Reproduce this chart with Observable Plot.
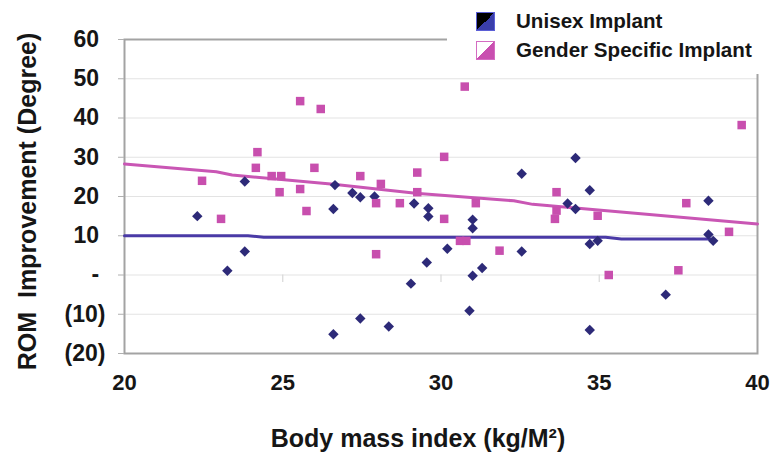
<!DOCTYPE html>
<html>
<head>
<meta charset="utf-8">
<script src="https://cdn.jsdelivr.net/npm/d3@7"></script>
<script src="https://cdn.jsdelivr.net/npm/@observablehq/plot@0.6"></script>
<style>
  html, body { margin: 0; padding: 0; background: #fff; }
  #wrap { position: relative; width: 771px; height: 459px; overflow: hidden; font-family: "Liberation Sans", Arial, sans-serif; }
  #legend { position: absolute; left: 447px; top: 0; width: 324px; height: 74px; background: #fff; }
  .item { position: absolute; left: 29px; height: 22px; display: flex; align-items: center; font-weight: bold; font-size: 20.6px; color: #151515; }
  .icon { width: 19px; height: 19px; margin-right: 21px; box-sizing: border-box; }
</style>
</head>
<body>
<div id="wrap">
  <div id="chart"></div>
  <div id="legend">
    <div class="item" style="top:10px"><div class="icon" style="border:1px solid #5b5fd6;background:linear-gradient(to bottom right,#000 50%,#3a3eab 50%)"></div>Unisex Implant</div>
    <div class="item" style="top:39px"><div class="icon" style="border:1px solid #d46cc2;background:linear-gradient(to bottom right,#fff 50%,#c94fb0 50%)"></div>Gender Specific Implant</div>
  </div>
</div>
<script>
// Unisex implant points (BMI, ROM improvement)
const unisexBMI = [22.3, 23.25, 23.8, 23.8, 26.6, 26.6, 26.65, 27.2, 27.45, 27.9, 27.45, 28.35, 29.15, 29.6, 29.6, 29.05, 29.55, 30.2, 31.0, 31.0, 31.0, 31.3, 30.9, 32.55, 32.55, 34.25, 34.0, 34.25, 34.7, 34.7, 34.95, 34.7, 37.1, 38.45, 38.45, 38.6];
const unisexROM = [15, 1.1, 23.8, 6, -15.1, 16.8, 22.9, 20.9, 19.8, 20, -11.1, -13.1, 18.2, 17, 14.9, -2.2, 3.2, 6.7, 14.1, 11.9, -0.2, 1.8, -9.1, 25.8, 6.0, 29.8, 18.2, 16.8, 21.6, 7.9, 8.7, -14, -5, 18.9, 10.3, 8.7];
// Gender specific implant points
const genderBMI = [22.45, 23.05, 24.2, 24.15, 24.65, 24.95, 24.9, 25.55, 25.55, 25.75, 26.0, 26.2, 27.45, 28.1, 27.95, 27.95, 28.7, 29.25, 29.25, 30.1, 30.1, 30.75, 30.6, 30.8, 31.1, 31.85, 33.65, 33.65, 33.6, 34.95, 35.3, 37.5, 37.75, 39.1, 39.5];
const genderROM = [24, 14.3, 31.3, 27.3, 25.2, 25.2, 21.1, 44.3, 21.9, 16.3, 27.3, 42.3, 25.2, 23.2, 18.3, 5.3, 18.3, 26.1, 21.1, 30.1, 14.3, 48, 8.7, 8.7, 18.3, 6.2, 21.1, 16.4, 14.3, 15.1, 0, 1.2, 18.3, 11, 38.2];
// Trend lines
const unisexTrendBMI = [20, 23.9, 24.4, 35.2, 35.7, 38.5];
const unisexTrendROM = [10, 10, 9.6, 9.6, 9.2, 9.2];
const genderTrendBMI = [20, 22.9, 23.4, 26.6, 29.2, 32.3, 32.9, 40];
const genderTrendROM = [28.3, 26.3, 25.5, 23.1, 20.8, 18.9, 18.0, 13.0];
// Ticks
const xTicks = [20, 25, 30, 35, 40];
const yTicks = [60, 50, 40, 30, 20, 10, 0, -10, -20];
const xLabel = "Body mass index (kg/M²)";
const yLabel = "ROM  Improvement (Degree)";

const unisex = unisexBMI.map((x, i) => ({x, y: unisexROM[i]}));
const gender = genderBMI.map((x, i) => ({x, y: genderROM[i]}));
const uTrend = unisexTrendBMI.map((x, i) => ({x, y: unisexTrendROM[i]}));
const gTrend = genderTrendBMI.map((x, i) => ({x, y: genderTrendROM[i]}));

const fmt = d => d === 0 ? "-\u00a0" : d < 0 ? `(${-d})` : `${d}\u00a0`;
const font = "Liberation Sans, Arial, sans-serif";

const chart = Plot.plot({
  width: 771,
  height: 459,
  marginLeft: 124,
  marginRight: 14,
  marginTop: 39,
  marginBottom: 106,
  x: {domain: [20, 40]},
  y: {domain: [-20, 60]},
  style: {fontFamily: font, background: "transparent"},
  marks: [
    Plot.gridY(yTicks.filter(d => d > -20 && d < 60), {stroke: "#e3e3e3", strokeOpacity: 1, strokeWidth: 1.2}),
    Plot.ruleX(xTicks.slice(1, -1), {x: d => d, y1: 0, y2: -1.9, stroke: "#d8d8d8", strokeWidth: 1.2}),
    Plot.frame({stroke: "#a3a3a3", strokeWidth: 2}),
    Plot.axisY(yTicks, {tickSize: 6, tickPadding: 13, tickFormat: fmt, stroke: "#b0b0b0", fontSize: 23, fontWeight: "bold", fill: "#161616", label: null}),
    Plot.axisX(xTicks, {tickSize: 0, tickPadding: 21, fontSize: 22, fontWeight: "bold", fill: "#161616", label: null}),
    Plot.line(uTrend, {x: "x", y: "y", stroke: "#4a3aa6", strokeWidth: 3}),
    Plot.line(gTrend, {x: "x", y: "y", stroke: "#c956b4", strokeWidth: 3}),
    Plot.dot(unisex, {x: "x", y: "y", symbol: "diamond2", r: 4.7, fill: "#2d2a78", stroke: "none"}),
    Plot.dot(gender, {x: "x", y: "y", symbol: "square", r: 4.8, fill: "#c84fae", stroke: "none"}),
    Plot.text([xLabel], {frameAnchor: "bottom", text: d => d, dy: 93, dx: -23, fontSize: 25, fontWeight: "bold", fill: "#161616"}),
    Plot.text([yLabel], {frameAnchor: "left", textAnchor: "middle", text: d => d, dx: -97, dy: 5, rotate: -90, fontSize: 25, fontWeight: "bold", fill: "#161616"})
  ]
});
document.getElementById("chart").appendChild(chart);
</script>
</body>
</html>
